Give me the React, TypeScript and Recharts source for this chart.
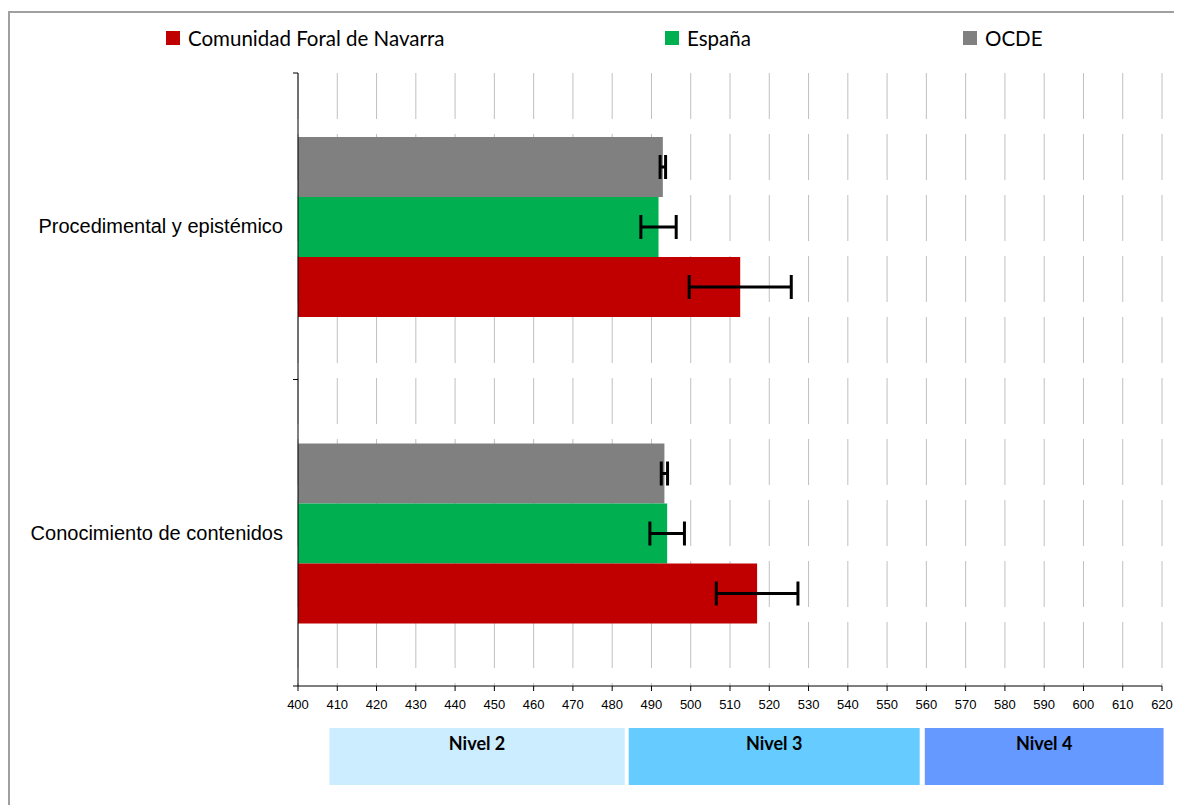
import React from "react";
import {
  BarChart,
  Bar,
  XAxis,
  YAxis,
  CartesianGrid,
  ErrorBar,
  ReferenceArea,
} from "recharts";

// dominios de competencia científica
const categories = ["Procedimental y epistémico", "Conocimiento de contenidos"];

const navarra = [512.6, 516.9];
const navarraErr = [13.0, 10.4];
const espana = [491.8, 494.0];
const espanaErr = [4.5, 4.4];
const ocde = [492.9, 493.3];
const ocdeErr = [0.7, 0.8];

const xTicks = [
  400, 410, 420, 430, 440, 450, 460, 470, 480, 490, 500, 510, 520, 530, 540,
  550, 560, 570, 580, 590, 600, 610, 620,
];

const levelNames = ["Nivel 2", "Nivel 3", "Nivel 4"];
const levelFrom = [408.0, 484.2, 559.6];
const levelTo = [483.2, 558.3, 620.4];
const levelColors = ["#CCECFF", "#66CCFF", "#6699FF"];

const seriesNames = ["Comunidad Foral de Navarra", "España", "OCDE"];
const seriesColors = ["#C00000", "#00B050", "#808080"];

const data = categories.map((name, i) => ({
  name,
  navarra: navarra[i],
  navarraErr: navarraErr[i],
  espana: espana[i],
  espanaErr: espanaErr[i],
  ocde: ocde[i],
  ocdeErr: ocdeErr[i],
}));

const W = 1166;
const ARIAL = "'Liberation Sans', Arial, sans-serif";
const LATO = "Lato, 'Noto Sans', sans-serif";
const TICK_SIZE = 6;
const TICK_MARGIN = 9;

// posiciones de la leyenda (x del cuadro)
const legendX = [158, 657, 955];

function Legend() {
  return (
    <>
      {seriesNames.map((s, i) => (
        <div
          key={s}
          style={{
            position: "absolute",
            left: legendX[i],
            top: 19,
            height: 22,
            display: "flex",
            alignItems: "center",
            fontFamily: LATO,
            fontSize: 20.5,
            color: "#000",
            whiteSpace: "nowrap",
          }}
        >
          <span
            style={{
              display: "inline-block",
              width: 14,
              height: 14,
              background: seriesColors[i],
              marginRight: 8,
            }}
          />
          {s}
        </div>
      ))}
    </>
  );
}

// etiqueta de categoría + marcas en los límites de cada banda (como Excel)
function CategoryTick(props: any) {
  const { x, y, payload, height, index, visibleTicksCount } = props;
  const ax = x + TICK_SIZE + TICK_MARGIN;
  const half =
    height && visibleTicksCount ? height / visibleTicksCount / 2 : 0;
  return (
    <g>
      <text
        x={x}
        y={y}
        dy="0.35em"
        textAnchor="end"
        fill="#000"
        fontSize={20}
        fontFamily={ARIAL}
      >
        {payload.value}
      </text>
      {half > 0 && (
        <line x1={ax - 5} x2={ax} y1={y - half} y2={y - half} stroke="#000" />
      )}
      {half > 0 && index === visibleTicksCount - 1 && (
        <line x1={ax - 5} x2={ax} y1={y + half} y2={y + half} stroke="#000" />
      )}
    </g>
  );
}

export default function App() {
  return (
    <div
      style={{ position: "relative", width: 1174, height: 797, overflow: "hidden" }}
    >
      <style>{"html,body{overflow:hidden}"}</style>
      <div
        style={{
          position: "absolute",
          left: 0,
          top: 3,
          width: 1174,
          height: 794,
          borderTop: "2px solid #A0A0A0",
          borderLeft: "2px solid #A0A0A0",
          boxSizing: "border-box",
        }}
      />
      <Legend />
      <div style={{ position: "absolute", left: 0, top: 0 }}>
        <BarChart
          width={W}
          height={720}
          data={data}
          layout="vertical"
          margin={{ top: 65, right: 12, bottom: 12, left: 0 }}
          barCategoryGap={64}
          barGap={0}
        >
          <CartesianGrid
            horizontal={false}
            stroke="#C0C0C0"
            strokeDasharray="46 15"
          />
          <XAxis
            type="number"
            domain={[400, 620]}
            ticks={xTicks}
            interval={0}
            allowDataOverflow
            stroke="#000"
            tickSize={5}
            tickMargin={9}
            tick={{ fill: "#000", fontSize: 13, fontFamily: ARIAL }}
          />
          <YAxis
            type="category"
            dataKey="name"
            width={290}
            stroke="#000"
            tickLine={false}
            tickSize={TICK_SIZE}
            tickMargin={TICK_MARGIN}
            interval={0}
            tick={<CategoryTick />}
          />
          <Bar dataKey="ocde" fill={seriesColors[2]} isAnimationActive={false}>
            <ErrorBar
              dataKey="ocdeErr"
              direction="x"
              width={12}
              strokeWidth={3}
              stroke="#000"
            />
          </Bar>
          <Bar dataKey="espana" fill={seriesColors[1]} isAnimationActive={false}>
            <ErrorBar
              dataKey="espanaErr"
              direction="x"
              width={12}
              strokeWidth={3}
              stroke="#000"
            />
          </Bar>
          <Bar dataKey="navarra" fill={seriesColors[0]} isAnimationActive={false}>
            <ErrorBar
              dataKey="navarraErr"
              direction="x"
              width={12}
              strokeWidth={3}
              stroke="#000"
            />
          </Bar>
        </BarChart>
      </div>
      <div style={{ position: "absolute", left: 0, top: 720 }}>
        <BarChart
          width={W}
          height={57}
          data={[{ name: "niveles" }]}
          layout="vertical"
          margin={{ top: 0, right: 12, bottom: 0, left: 290 }}
        >
          <XAxis type="number" domain={[400, 620]} allowDataOverflow hide />
          <YAxis type="category" dataKey="name" hide />
          {levelNames.map((n, i) => (
            <ReferenceArea
              key={n}
              x1={levelFrom[i]}
              x2={levelTo[i]}
              ifOverflow="visible"
              fill={levelColors[i]}
              fillOpacity={1}
              stroke="none"
              label={{
                value: n,
                position: "insideTop",
                offset: 9,
                fill: "#000",
                fontSize: 18,
                fontWeight: "bold",
                fontFamily: LATO,
              }}
            />
          ))}
        </BarChart>
      </div>
    </div>
  );
}
